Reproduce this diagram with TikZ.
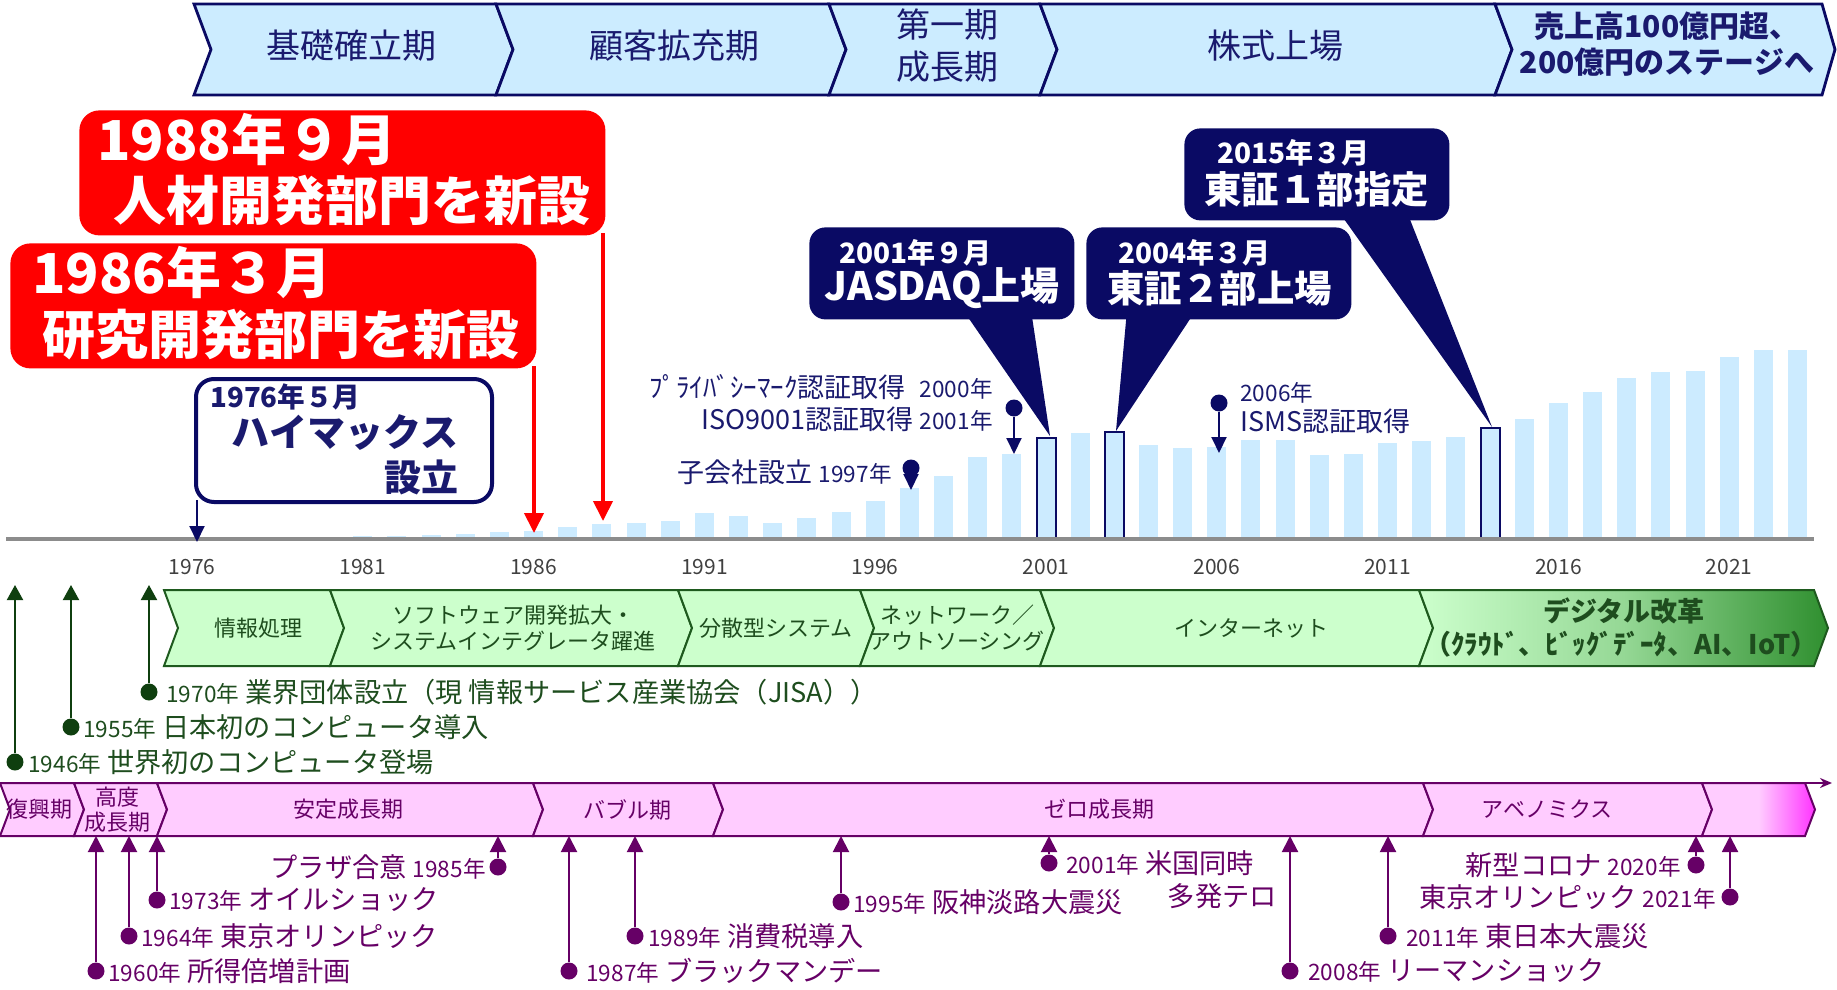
\documentclass[tikz,border=0pt]{standalone}
\usepackage{fontspec}
\setmainfont{Noto Sans CJK JP}
\usepackage{tikz}
\usetikzlibrary{arrows.meta}
\usetikzlibrary{positioning}
\usetikzlibrary{shadings}

\definecolor{navy}{HTML}{0A0A64}
\definecolor{navytext}{HTML}{1A1A6E}
\definecolor{hdrfill}{HTML}{CCECFF}
\definecolor{barfill}{HTML}{CCEBFF}
\definecolor{axisgray}{HTML}{8C8C8C}
\definecolor{grnfill}{HTML}{CCFFCC}
\definecolor{grnline}{HTML}{1E5A1E}
\definecolor{grndark}{HTML}{2F8F2F}
\definecolor{gtxt}{HTML}{1E4D1E}
\definecolor{garr}{HTML}{0F3F0F}
\definecolor{pnkfill}{HTML}{FFCCFF}
\definecolor{pnkdark}{HTML}{FF33FF}
\definecolor{purp}{HTML}{660066}

\newcommand{\smallyr}[1]{{\fontsize{11.3pt}{13pt}\selectfont #1}}

\tikzstyle{hdrseg}=[draw=navy, fill=hdrfill, line width=1.4pt]
\tikzstyle{hdrtext}=[text=navytext, font=\fontsize{17pt}{21pt}\selectfont, align=center, inner sep=0pt]
\tikzstyle{hdrbold}=[text=navytext, font=\bfseries\fontsize{15pt}{18pt}\selectfont, align=center, inner sep=0pt]
\tikzstyle{redbox}=[fill=red, rounded corners=10pt, inner sep=0pt, anchor=north west]
\tikzstyle{redtext}=[text=white, font=\bfseries\fontsize{27.5pt}{30pt}\selectfont, inner sep=0pt, anchor=west]
\tikzstyle{redtextb}=[text=white, font=\bfseries\fontsize{26.5pt}{30pt}\selectfont, inner sep=0pt, anchor=west]
\tikzstyle{redarrow}=[draw=red, line width=2pt, -{Triangle[width=9.5pt,length=10pt]}]
\tikzstyle{hmxbox}=[draw=navy, line width=2pt, fill=white, rounded corners=9pt, inner sep=0pt, anchor=north west]
\tikzstyle{navyarrow}=[draw=navy, line width=1pt, -{Triangle[width=7.5pt,length=8pt]}]
\tikzstyle{bar}=[fill=barfill]
\tikzstyle{barmark}=[draw=navy, line width=1pt, fill=barfill]
\tikzstyle{axis}=[draw=axisgray, line width=1.6pt]
\tikzstyle{yearlbl}=[text=black!75, font=\fontsize{10.5pt}{12pt}\selectfont, inner sep=0pt]
\tikzstyle{callout}=[fill=navy, rounded corners=8pt, inner sep=0pt, anchor=north west]
\tikzstyle{calldate}=[text=white, font=\bfseries\fontsize{14pt}{16pt}\selectfont, inner sep=0pt, anchor=west]
\tikzstyle{callmain}=[text=white, font=\bfseries\fontsize{18.7pt}{22pt}\selectfont, inner sep=0pt, anchor=west]
\tikzstyle{ndot}=[circle, fill=navy, minimum size=8.5pt, inner sep=0pt]
\tikzstyle{nnote}=[text=navytext, font=\fontsize{13.5pt}{16pt}\selectfont, inner sep=0pt]
\tikzstyle{grnseg}=[draw=grnline, fill=grnfill, line width=1pt]
\tikzstyle{grntext}=[text=gtxt, font=\fontsize{11pt}{13pt}\selectfont, align=center, inner sep=0pt]
\tikzstyle{grnbold}=[text=gtxt, font=\bfseries\fontsize{13.5pt}{16pt}\selectfont, inner sep=0pt]
\tikzstyle{gdot}=[circle, fill=garr, minimum size=8.5pt, inner sep=0pt]
\tikzstyle{garrow}=[draw=garr, line width=1pt, -{Triangle[width=8pt,length=7.5pt]}]
\tikzstyle{gnote}=[text=gtxt, font=\fontsize{13.6pt}{15pt}\selectfont, inner sep=0pt, anchor=west]
\tikzstyle{pnkseg}=[draw=purp, fill=pnkfill, line width=1pt]
\tikzstyle{pnktext}=[text=purp, font=\fontsize{11pt}{12.5pt}\selectfont, align=center, inner sep=0pt]
\tikzstyle{pdot}=[circle, fill=purp, minimum size=8.5pt, inner sep=0pt]
\tikzstyle{parrow}=[draw=purp, line width=1pt, -{Triangle[width=8pt,length=8pt]}]
\tikzstyle{pnote}=[text=purp, font=\fontsize{13.6pt}{15pt}\selectfont, inner sep=0pt]

\begin{document}
\begin{tikzpicture}[x=0.5pt, y=-0.5pt]
    \useasboundingbox (0,0) rectangle (1837,990);

    % Company stages along the top
    \foreach \xa/\xb/\cx/\name/\txt in {194/496/351/stA/{基礎確立期}, 496/829/674/stB/{顧客拡充期}, 829/1040/947/stC/{第一期\\成長期}, 1040/1495/1275/stD/{株式上場}}
    {
        \draw[hdrseg] (\xa,4) -- (\xb,4) -- (\xb+17,49.5) -- (\xb,95) -- (\xa,95) -- (\xa+17,49.5) -- cycle;
        \node[hdrtext] (\name) at (\cx,46) {\txt};
    }
    \draw[hdrseg] (1495,4) -- (1822,4) -- (1835,49.5) -- (1822,95) -- (1495,95) -- (1512,49.5) -- cycle;
    \node[hdrbold] (stE) at (1667,44) {売上高100億円超、\\200億円のステージへ};

    % Sales bars
    \foreach \yr/\top in {1978/538,1979/537,1980/537,1981/536,1982/536,1983/535,1984/534,1985/532,1986/531,1987/527,1988/524,1989/523,1990/521,1991/513,1992/516,1993/523,1994/518,1995/512,1996/501,1997/488,1998/476,1999/457,2000/454,2002/433,2004/445,2005/448,2006/447,2007/440,2008/440,2009/455,2010/454,2011/443,2012/441,2013/437,2015/419,2016/403,2017/392,2018/378,2019/372,2020/371,2021/357,2022/350,2023/350}
    {
        \pgfmathsetmacro{\bx}{192+34.16*(\yr-1976)}
        \fill[bar] (\bx-9.5,539) rectangle (\bx+9.5,\top);
    }
    \foreach \yr/\top/\name in {2001/438/b2001, 2003/432/b2003, 2014/428/b2014}
    {
        \pgfmathsetmacro{\bx}{192+34.16*(\yr-1976)}
        \draw[barmark] (\bx-9.5,539) rectangle (\bx+9.5,\top);
        \coordinate (\name) at (\bx,\top);
    }

    % Axis and years
    \coordinate (axL) at (6,539);
    \coordinate (axR) at (1814,539);
    \draw[axis] (axL) -- (axR);
    \foreach \yr in {1976,1981,...,2021}
        \node[yearlbl] (y\yr) at ({192+34.16*(\yr-1976)},567) {\yr};

    % Red boxes
    \node[redbox, minimum width=263pt, minimum height=62.5pt] (rd88) at (79,110) {};
    \node[redtext] (rd88a) at (97,139) {1988年９月};
    \node[redtextb] (rd88b) at (113,200) {人材開発部門を新設};
    \node[redbox, minimum width=263pt, minimum height=62.5pt] (rd86) at (10,243) {};
    \node[redtext] (rd86a) at (32,272) {1986年３月};
    \node[redtextb] (rd86b) at (42,335) {研究開発部門を新設};
    \coordinate (rd88foot) at (603,233);
    \coordinate (rd88tip) at (603,521);
    \coordinate (rd86foot) at (534,366);
    \coordinate (rd86tip) at (534,533);
    \draw[redarrow] (rd88foot) -- (rd88tip);
    \draw[redarrow] (rd86foot) -- (rd86tip);

    % Founding
    \node[hmxbox, minimum width=148pt, minimum height=61.5pt] (hmx) at (194,377) {};
    \node[text=navytext, font=\bfseries\fontsize{13.8pt}{16pt}\selectfont, inner sep=0pt, anchor=west] (hmxA) at (210,397) {1976年５月};
    \node[text=navytext, font=\bfseries\fontsize{19pt}{22pt}\selectfont, inner sep=0pt] (hmxB) at (345,433) {ハイマックス};
    \node[text=navytext, font=\bfseries\fontsize{18.5pt}{22pt}\selectfont, inner sep=0pt, anchor=east] (hmxC) at (459,477) {設立};
    \coordinate (hmxfoot) at (197,500);
    \coordinate (hmxtip) at (197,542);
    \draw[navyarrow] (hmxfoot) -- (hmxtip);

    % Listing callouts
    \node[callout, minimum width=132.5pt, minimum height=46pt] (cJas) at (809,227) {};
    \fill[navy] (963,310) -- (1031,310) -- (1050,436) -- cycle;
    \node[calldate] (cJasA) at (839,253) {2001年９月};
    \node[callmain, font=\bfseries\fontsize{19.5pt}{22pt}\selectfont] (cJasB) at (824,288) {JASDAQ上場};

    \node[callout, minimum width=132.5pt, minimum height=46pt] (cTs2) at (1086,227) {};
    \fill[navy] (1127,310) -- (1196,310) -- (1116,431) -- cycle;
    \node[calldate] (cTs2A) at (1118,253) {2004年３月};
    \node[callmain] (cTs2B) at (1107,288) {東証２部上場};

    \node[callout, minimum width=132.5pt, minimum height=46pt] (cTs1) at (1184,128) {};
    \fill[navy] (1339,212) -- (1407,212) -- (1492,427) -- cycle;
    \node[calldate] (cTs1A) at (1217,153) {2015年３月};
    \node[callmain] (cTs1B) at (1204,189) {東証１部指定};

    % Certifications and subsidiary
    \node[ndot] (privdot) at (1014,408) {};
    \coordinate (privtip) at (1014,454);
    \draw[navyarrow] (privdot) -- (privtip);
    \node[nnote, anchor=east] (privtxt) at (993,387) {ﾌﾟﾗｲﾊﾞｼｰﾏｰｸ認証取得\hspace{7pt}\smallyr{2000年}};
    \node[nnote, anchor=east] (isotxt) at (993,419) {ISO9001認証取得 \smallyr{2001年}};
    \node[ndot] (subdot) at (911,468) {};
    \coordinate (subtip) at (911,490);
    \draw[navyarrow] (subdot) -- (subtip);
    \node[nnote, anchor=east] (subtxt) at (892,472) {子会社設立 \smallyr{1997年}};
    \node[ndot] (ismsdot) at (1219,403) {};
    \coordinate (ismstip) at (1219,453);
    \draw[navyarrow] (ismsdot) -- (ismstip);
    \node[nnote, anchor=west] (ismsyr) at (1240,393) {\smallyr{2006年}};
    \node[nnote, anchor=west] (ismstxt) at (1240,421) {ISMS認証取得};

    % IT industry band
    \foreach \xa/\xb/\cx/\name/\txt in {164/330/258/gA/{情報処理}, 330/678/513/gB/{ソフトウェア開発拡大・\\システムインテグレータ躍進}, 678/860/776/gC/{分散型システム}, 860/1040/957/gD/{ネットワーク／\\アウトソーシング}, 1040/1419/1251/gE/{インターネット}}
    {
        \draw[grnseg] (\xa,590) -- (\xb,590) -- (\xb+14,628) -- (\xb,666) -- (\xa,666) -- (\xa+14,628) -- cycle;
        \node[grntext] (\name) at (\cx,628) {\txt};
    }
    \path[draw=grnline, line width=1pt, left color=grnfill, right color=grndark, middle color=grnfill!65!grndark] (1419,590) -- (1814,590) -- (1828,628) -- (1814,666) -- (1419,666) -- (1433,628) -- cycle;
    \node[grnbold] (gF) at (1624,611) {デジタル改革};
    \node[grnbold] (gG) at (1621,644) {（ｸﾗｳﾄﾞ、ﾋﾞｯｸﾞﾃﾞｰﾀ、AI、IoT）};

    % Industry events
    \foreach \x/\y/\tx/\name/\yr/\txt in {149/692/166/e1970/{1970年}/{業界団体設立（現 情報サービス産業協会（JISA））}, 71/727/83/e1955/{1955年}/{日本初のコンピュータ導入}, 15/762/28/e1946/{1946年}/{世界初のコンピュータ登場}}
    {
        \node[gdot] (\name) at (\x,\y) {};
        \coordinate (\name top) at (\x,585);
        \draw[garrow] (\name) -- (\name top);
        \node[gnote] (\name txt) at (\tx,\y) {\smallyr{\yr} \txt};
    }

    % Economy band
    \foreach \xa/\xb/\cx/\name/\txt in {0/74/39/pzA/{復興期}, 74/157/117/pzB/{高度\\成長期}, 157/533/348/pzC/{安定成長期}, 533/713/627/pzD/{バブル期}, 713/1423/1099/pzE/{ゼロ成長期}, 1423/1702/1547/pzF/{アベノミクス}}
    {
        \draw[pnkseg] (\xa,783) -- (\xb,783) -- (\xb+10,809.5) -- (\xb,836) -- (\xa,836) -- (\xa+10,809.5) -- cycle;
        \node[pnktext] (\name) at (\cx,809.5) {\txt};
    }
    \path[draw=purp, line width=1pt, left color=pnkfill, right color=pnkdark, middle color=pnkfill] (1702,783) -- (1805,783) -- (1815,809.5) -- (1805,836) -- (1702,836) -- (1712,809.5) -- cycle;
    \coordinate (pzL) at (0,783);
    \coordinate (pzR) at (1832,783);
    \draw[purp, line width=1pt, -{Stealth[width=5pt,length=6pt]}] (pzL) -- (pzR);

    % Economic events
    \foreach \x/\y/\tx/\name/\yr/\txt in {96/971/108/pe1960/{1960年}/{所得倍増計画}, 129/936/141/pe1964/{1964年}/{東京オリンピック}, 157/900/169/pe1973/{1973年}/{オイルショック}, 569/971/586/pe1987/{1987年}/{ブラックマンデー}, 635/936/648/pe1989/{1989年}/{消費税導入}, 841/902/853/pe1995/{1995年}/{阪神淡路大震災}, 1049/863/1066/pe2001/{2001年}/{米国同時}, 1290/971/1308/pe2008/{2008年}/{リーマンショック}, 1388/936/1406/pe2011/{2011年}/{東日本大震災}}
    {
        \node[pdot] (\name) at (\x,\y) {};
        \coordinate (\name top) at (\x,836);
        \draw[parrow] (\name) -- (\name top);
        \node[pnote, anchor=west] (\name txt) at (\tx,\y) {\smallyr{\yr} \txt};
    }
    \foreach \x/\y/\tx/\name/\yr/\txt in {498/867/486/pe1985/{1985年}/{プラザ合意}, 1696/865/1681/pe2020/{2020年}/{新型コロナ}, 1730/897/1716/pe2021/{2021年}/{東京オリンピック}}
    {
        \node[pdot] (\name) at (\x,\y) {};
        \coordinate (\name top) at (\x,836);
        \draw[parrow] (\name) -- (\name top);
        \node[pnote, anchor=east] (\name txt) at (\tx,\y) {\txt{} \smallyr{\yr}};
    }
    \node[pnote, anchor=east] (pe2001b) at (1277,896) {多発テロ};

\end{tikzpicture}
\end{document}
